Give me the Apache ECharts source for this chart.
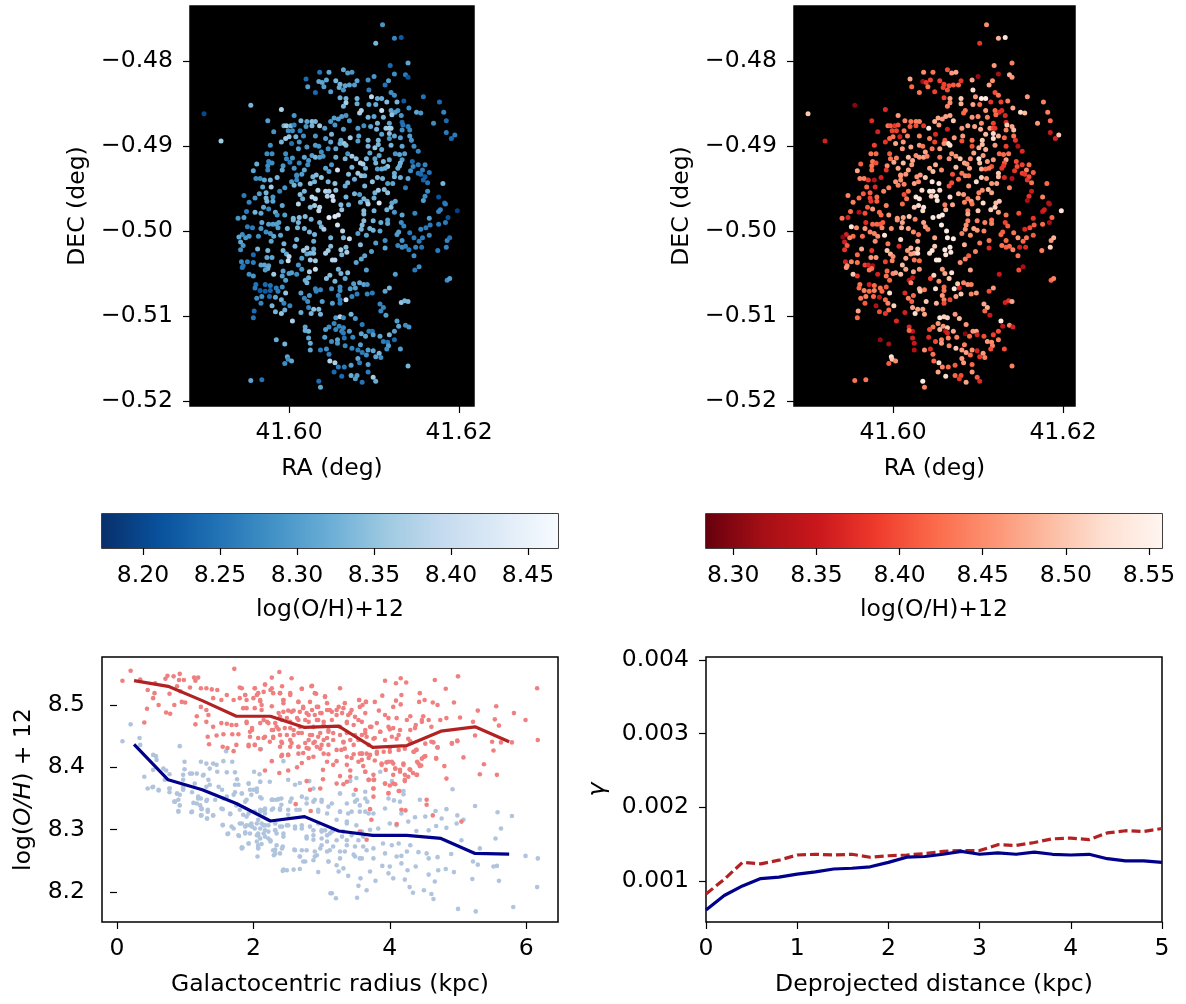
<!DOCTYPE html>
<html><head><meta charset="utf-8"><style>html,body{margin:0;padding:0;background:#fff}#c{width:1186px;height:1004px}</style>
<script src="https://cdn.jsdelivr.net/npm/echarts@6/dist/echarts.min.js"></script></head><body><div id="c"></div>
<script>
// Each row: RA (deg), DEC (deg), log(O/H)+12 in the blue map, log(O/H)+12 in the red map
const mapNorth=[
[41.6110,-0.4757,8.29,8.45],[41.6102,-0.4779,8.33,8.38],[41.6124,-0.4773,8.27,8.48],[41.6132,-0.4772,8.22,8.53],[41.6140,-0.4802,8.31,8.44],
[41.6119,-0.4805,8.24,8.46],[41.6137,-0.4816,8.26,8.48],[41.6140,-0.4819,8.21,8.46],[41.6124,-0.4815,8.28,8.32],[41.6036,-0.4813,8.25,8.45],
[41.6047,-0.4813,8.31,8.43],[41.6064,-0.4810,8.31,8.40],[41.6069,-0.4814,8.30,8.46],[41.6074,-0.4813,8.29,8.47],[41.6020,-0.4821,8.24,8.47],
[41.6035,-0.4824,8.31,8.32],[41.6039,-0.4825,8.31,8.38],[41.6044,-0.4822,8.31,8.39],[41.6041,-0.4830,8.30,8.43],[41.6055,-0.4823,8.33,8.39],
[41.6022,-0.4830,8.30,8.42],[41.6031,-0.4837,8.24,8.43],[41.6049,-0.4836,8.30,8.39],[41.6060,-0.4827,8.33,8.39],[41.6059,-0.4831,8.32,8.39],
[41.6066,-0.4829,8.31,8.40],[41.6071,-0.4828,8.31,8.41],[41.6077,-0.4828,8.30,8.42],[41.6080,-0.4823,8.31,8.38],[41.6064,-0.4834,8.29,8.40],
[41.6093,-0.4822,8.28,8.47],[41.6100,-0.4818,8.29,8.31],[41.6117,-0.4823,8.30,8.45],[41.6113,-0.4828,8.25,8.47],[41.6094,-0.4834,8.26,8.52],
[41.6120,-0.4837,8.28,8.40],[41.6124,-0.4840,8.28,8.43],[41.6158,-0.4842,8.25,8.46],[41.6135,-0.4847,8.22,8.44],[41.6177,-0.4848,8.24,8.44],
[41.6182,-0.4860,8.27,8.44],[41.6127,-0.4848,8.33,8.39],[41.6060,-0.4843,8.32,8.39],[41.6067,-0.4844,8.33,8.47],[41.6080,-0.4844,8.33,8.50],
[41.6097,-0.4842,8.39,8.46],[41.6104,-0.4844,8.32,8.54],[41.6109,-0.4844,8.32,8.54],[41.6115,-0.4848,8.34,8.38],[41.6067,-0.4849,8.37,8.45],
[41.6064,-0.4853,8.33,8.44],[41.6080,-0.4850,8.32,8.48],[41.6094,-0.4851,8.31,8.47],[41.6102,-0.4851,8.32,8.42],[41.6109,-0.4858,8.40,8.46],
[41.6120,-0.4858,8.31,8.42],[41.6128,-0.4858,8.29,8.37],[41.6125,-0.4860,8.30,8.37],[41.6141,-0.4855,8.28,8.47],[41.6150,-0.4860,8.31,8.52],
[41.6155,-0.4861,8.29,8.49],[41.6085,-0.4858,8.37,8.43],[41.6083,-0.4861,8.37,8.42],[41.5991,-0.4857,8.37,8.37],[41.5955,-0.4852,8.33,8.30],
[41.5900,-0.4862,8.20,8.50],[41.5920,-0.4894,8.36,8.36]
];
const mapUpper=[
[41.6006,-0.4864,8.29,8.46],[41.5975,-0.4870,8.30,8.37],[41.6014,-0.4870,8.33,8.44],[41.6027,-0.4871,8.34,8.44],[41.6031,-0.4871,8.33,8.44],
[41.6021,-0.4871,8.31,8.43],[41.6053,-0.4867,8.30,8.47],[41.6058,-0.4868,8.30,8.46],[41.6062,-0.4865,8.30,8.47],[41.6067,-0.4864,8.29,8.47],
[41.6071,-0.4870,8.29,8.50],[41.6049,-0.4871,8.29,8.48],[41.6054,-0.4875,8.29,8.46],[41.6093,-0.4866,8.33,8.46],[41.6100,-0.4865,8.31,8.45],
[41.6111,-0.4866,8.33,8.44],[41.6121,-0.4863,8.35,8.42],[41.6132,-0.4864,8.29,8.37],[41.6118,-0.4873,8.31,8.39],[41.6104,-0.4873,8.33,8.45],
[41.6133,-0.4872,8.24,8.37],[41.6134,-0.4875,8.25,8.50],[41.6140,-0.4877,8.26,8.47],[41.6142,-0.4881,8.27,8.49],[41.6170,-0.4873,8.28,8.46],
[41.6185,-0.4870,8.24,8.42],[41.5994,-0.4876,8.33,8.43],[41.5997,-0.4876,8.36,8.41],[41.6002,-0.4876,8.33,8.38],[41.6006,-0.4875,8.27,8.40],
[41.6020,-0.4877,8.29,8.41],[41.6027,-0.4876,8.33,8.40],[41.6036,-0.4876,8.36,8.38],[41.6042,-0.4879,8.30,8.54],[41.6064,-0.4880,8.30,8.36],
[41.6081,-0.4879,8.30,8.46],[41.6088,-0.4876,8.28,8.47],[41.6096,-0.4877,8.31,8.47],[41.6103,-0.4880,8.33,8.48],[41.6114,-0.4879,8.36,8.46],
[41.6118,-0.4879,8.37,8.40],[41.6120,-0.4879,8.36,8.38],[41.6133,-0.4881,8.28,8.44],[41.5982,-0.4883,8.29,8.36],[41.5999,-0.4882,8.28,8.39],
[41.6004,-0.4882,8.28,8.39],[41.6013,-0.4882,8.26,8.43],[41.6118,-0.4885,8.34,8.52],[41.6109,-0.4886,8.31,8.49],[41.6142,-0.4888,8.30,8.43],
[41.6185,-0.4884,8.26,8.35],[41.6195,-0.4887,8.26,8.50],[41.6191,-0.4891,8.24,8.36],[41.6000,-0.4889,8.35,8.43],[41.6008,-0.4889,8.33,8.36],
[41.6017,-0.4888,8.28,8.44],[41.6031,-0.4888,8.29,8.44],[41.5996,-0.4891,8.36,8.42],[41.6043,-0.4891,8.30,8.44],[41.6050,-0.4886,8.33,8.37],
[41.6072,-0.4890,8.36,8.46],[41.6082,-0.4888,8.31,8.46],[41.6093,-0.4893,8.33,8.43],[41.6105,-0.4893,8.33,8.50],[41.6118,-0.4891,8.29,8.52],
[41.6124,-0.4888,8.31,8.48],[41.6131,-0.4890,8.30,8.42],[41.6144,-0.4893,8.29,8.38],[41.5991,-0.4895,8.33,8.38],[41.5978,-0.4899,8.28,8.39],
[41.6003,-0.4897,8.25,8.47],[41.6012,-0.4895,8.29,8.46],[41.6031,-0.4899,8.30,8.46],[41.6035,-0.4900,8.29,8.43],[41.6049,-0.4895,8.31,8.39],
[41.6061,-0.4893,8.32,8.41],[41.6065,-0.4897,8.36,8.53],[41.6060,-0.4897,8.32,8.45],[41.6067,-0.4899,8.34,8.52],[41.6081,-0.4894,8.30,8.40],
[41.6093,-0.4900,8.33,8.40],[41.6101,-0.4902,8.35,8.48],[41.6105,-0.4898,8.33,8.49],[41.6109,-0.4904,8.31,8.48],[41.6120,-0.4899,8.33,8.46],
[41.6133,-0.4900,8.31,8.39],[41.6147,-0.4900,8.28,8.33],[41.6152,-0.4906,8.27,8.37]
];
const mapMiddleNorth=[
[41.5974,-0.4909,8.28,8.43],[41.5980,-0.4909,8.28,8.42],[41.5996,-0.4909,8.28,8.41],[41.6011,-0.4903,8.30,8.46],[41.6021,-0.4901,8.29,8.47],
[41.6038,-0.4907,8.28,8.47],[41.6046,-0.4903,8.28,8.43],[41.6055,-0.4903,8.31,8.47],[41.6069,-0.4909,8.29,8.45],[41.6095,-0.4908,8.31,8.47],
[41.6106,-0.4911,8.31,8.46],[41.6125,-0.4909,8.29,8.42],[41.6130,-0.4910,8.31,8.42],[41.6136,-0.4909,8.30,8.43],[41.6027,-0.4911,8.30,8.45],
[41.6031,-0.4913,8.33,8.46],[41.6036,-0.4913,8.30,8.47],[41.6040,-0.4912,8.29,8.44],[41.5997,-0.4915,8.27,8.43],[41.6004,-0.4914,8.29,8.44],
[41.6018,-0.4913,8.31,8.49],[41.6012,-0.4920,8.27,8.49],[41.6001,-0.4919,8.26,8.47],[41.5976,-0.4918,8.27,8.43],[41.5962,-0.4921,8.32,8.41],
[41.5980,-0.4920,8.28,8.40],[41.5975,-0.4923,8.28,8.43],[41.5975,-0.4928,8.27,8.42],[41.5958,-0.4929,8.31,8.47],[41.5993,-0.4923,8.29,8.45],
[41.5992,-0.4928,8.31,8.38],[41.6006,-0.4926,8.29,8.47],[41.6023,-0.4917,8.29,8.47],[41.6022,-0.4922,8.28,8.46],[41.6018,-0.4928,8.31,8.47],
[41.6055,-0.4913,8.32,8.43],[41.6066,-0.4915,8.33,8.46],[41.6074,-0.4912,8.36,8.46],[41.6079,-0.4915,8.35,8.50],[41.6091,-0.4915,8.33,8.45],
[41.6101,-0.4915,8.31,8.53],[41.6111,-0.4918,8.33,8.46],[41.6118,-0.4916,8.31,8.46],[41.6102,-0.4920,8.33,8.49],[41.6133,-0.4916,8.30,8.47],
[41.6131,-0.4920,8.33,8.41],[41.6145,-0.4918,8.24,8.40],[41.6152,-0.4922,8.26,8.39],[41.6160,-0.4922,8.27,8.42],[41.6146,-0.4924,8.27,8.40],
[41.6050,-0.4922,8.29,8.48],[41.6043,-0.4926,8.31,8.47],[41.6057,-0.4928,8.41,8.45],[41.6047,-0.4930,8.30,8.49],[41.6074,-0.4925,8.33,8.49],
[41.6084,-0.4920,8.38,8.47],[41.6087,-0.4921,8.37,8.46],[41.6090,-0.4926,8.33,8.47],[41.6116,-0.4924,8.35,8.40],[41.6109,-0.4927,8.32,8.42],
[41.6113,-0.4926,8.32,8.43],[41.6104,-0.4927,8.30,8.47],[41.6130,-0.4923,8.32,8.38],[41.6128,-0.4926,8.32,8.38],[41.6143,-0.4929,8.28,8.38],
[41.6157,-0.4928,8.26,8.44],[41.6165,-0.4931,8.25,8.41],[41.6152,-0.4932,8.25,8.39],[41.6155,-0.4933,8.24,8.38],[41.6160,-0.4936,8.22,8.40],
[41.6158,-0.4940,8.23,8.38],[41.6163,-0.4943,8.25,8.43],[41.6009,-0.4934,8.27,8.46],[41.6015,-0.4933,8.30,8.46],[41.5961,-0.4938,8.28,8.44],
[41.5966,-0.4938,8.28,8.44],[41.5971,-0.4940,8.31,8.38],[41.5978,-0.4940,8.33,8.33],[41.5986,-0.4937,8.33,8.36],[41.5969,-0.4948,8.31,8.42],
[41.5979,-0.4948,8.36,8.37],[41.6003,-0.4942,8.29,8.46],[41.6009,-0.4935,8.28,8.46],[41.6009,-0.4940,8.27,8.45],[41.6006,-0.4946,8.33,8.44],
[41.6013,-0.4945,8.33,8.44],[41.6028,-0.4936,8.33,8.46],[41.6032,-0.4934,8.34,8.46],[41.6038,-0.4937,8.35,8.50],[41.6030,-0.4942,8.33,8.45],
[41.6025,-0.4944,8.35,8.47],[41.6046,-0.4942,8.33,8.53],[41.6054,-0.4944,8.35,8.53],[41.6070,-0.4933,8.34,8.40],[41.6081,-0.4932,8.36,8.43],
[41.6085,-0.4935,8.35,8.44],[41.6089,-0.4935,8.33,8.43],[41.6077,-0.4939,8.32,8.42],[41.6069,-0.4943,8.33,8.40],[41.6066,-0.4947,8.32,8.40],
[41.6089,-0.4947,8.33,8.46],[41.6098,-0.4942,8.35,8.52],[41.6104,-0.4937,8.33,8.50],[41.6110,-0.4938,8.33,8.46],[41.6116,-0.4944,8.30,8.46],
[41.6122,-0.4944,8.31,8.47],[41.6124,-0.4932,8.32,8.50],[41.6124,-0.4936,8.33,8.49],[41.6131,-0.4937,8.32,8.37],[41.6140,-0.4938,8.31,8.33],
[41.6137,-0.4949,8.26,8.44],[41.6181,-0.4944,8.33,8.42],[41.6163,-0.4953,8.28,8.35],[41.6160,-0.4959,8.28,8.38],[41.6176,-0.4960,8.21,8.44],
[41.6158,-0.4964,8.30,8.32],[41.6183,-0.4967,8.24,8.33],[41.5947,-0.4958,8.26,8.44],[41.5965,-0.4956,8.30,8.41],[41.5960,-0.4961,8.29,8.42],
[41.5953,-0.4966,8.27,8.44],[41.5973,-0.4955,8.33,8.41],[41.5973,-0.4961,8.33,8.39],[41.5974,-0.4965,8.33,8.38],[41.5981,-0.4960,8.29,8.42],
[41.5981,-0.4965,8.31,8.41],[41.5989,-0.4953,8.27,8.44],[41.5995,-0.4949,8.29,8.44],[41.6018,-0.4953,8.33,8.43],[41.6013,-0.4957,8.34,8.40],
[41.6016,-0.4962,8.32,8.43],[41.6034,-0.4952,8.38,8.52],[41.6043,-0.4953,8.38,8.54],[41.6047,-0.4953,8.37,8.53],[41.6055,-0.4952,8.35,8.52],
[41.6027,-0.4960,8.39,8.53],[41.6031,-0.4962,8.38,8.53],[41.6045,-0.4959,8.38,8.50],[41.6051,-0.4959,8.40,8.53],[41.6052,-0.4964,8.40,8.53],
[41.6067,-0.4960,8.33,8.52],[41.6077,-0.4956,8.33,8.48],[41.6083,-0.4957,8.30,8.46],[41.6101,-0.4955,8.33,8.44],[41.6105,-0.4952,8.36,8.45],
[41.6112,-0.4951,8.34,8.49],[41.6116,-0.4955,8.35,8.47],[41.6100,-0.4961,8.32,8.46],[41.6088,-0.4962,8.33,8.43],[41.6084,-0.4966,8.32,8.44],
[41.6092,-0.4965,8.33,8.46],[41.6106,-0.4967,8.42,8.52],[41.6125,-0.4965,8.31,8.50],[41.6121,-0.4967,8.31,8.49],[41.6011,-0.4968,8.38,8.42]
];
const mapSouth=[
[41.5992,-0.4970,8.31,8.44],[41.6025,-0.4972,8.34,8.50],[41.6030,-0.4970,8.36,8.52],[41.6036,-0.4972,8.38,8.53],[41.6035,-0.4976,8.39,8.52],
[41.6061,-0.4969,8.34,8.44],[41.6070,-0.4969,8.32,8.47],[41.6062,-0.4975,8.35,8.48],[41.6093,-0.4968,8.37,8.43],[41.6088,-0.4976,8.34,8.44],
[41.6088,-0.4980,8.34,8.47],[41.6100,-0.4976,8.33,8.50],[41.6115,-0.4975,8.33,8.51],[41.6120,-0.4972,8.34,8.51],[41.6124,-0.4978,8.29,8.47],
[41.6133,-0.4981,8.31,8.43],[41.6148,-0.4979,8.27,8.40],[41.6176,-0.4977,8.27,8.35],[41.6178,-0.4975,8.27,8.36],[41.6184,-0.4968,8.26,8.33],
[41.6198,-0.4976,8.19,8.53],[41.6187,-0.4984,8.21,8.42],[41.5940,-0.4985,8.29,8.43],[41.5947,-0.4984,8.30,8.36],[41.5950,-0.4977,8.26,8.42],
[41.5960,-0.4978,8.33,8.33],[41.5967,-0.4979,8.31,8.40],[41.5970,-0.4972,8.31,8.41],[41.5976,-0.4974,8.27,8.46],[41.5984,-0.4978,8.32,8.42],
[41.5986,-0.4981,8.28,8.42],[41.5995,-0.4981,8.30,8.46],[41.6005,-0.4987,8.32,8.45],[41.6005,-0.4985,8.33,8.46],[41.6012,-0.4984,8.34,8.47],
[41.6019,-0.4983,8.34,8.50],[41.6026,-0.4986,8.33,8.44],[41.6047,-0.4984,8.44,8.53],[41.6054,-0.4983,8.43,8.54],[41.6058,-0.4981,8.42,8.54],
[41.6036,-0.4990,8.33,8.47],[41.6038,-0.4995,8.33,8.46],[41.6041,-0.4998,8.37,8.44],[41.6057,-0.4993,8.41,8.54],[41.6063,-0.5000,8.38,8.54],
[41.6099,-0.4988,8.33,8.44],[41.6108,-0.4990,8.32,8.44],[41.6116,-0.4987,8.30,8.43],[41.6116,-0.4991,8.31,8.44],[41.6132,-0.4990,8.28,8.39],
[41.6135,-0.4994,8.27,8.41],[41.6165,-0.4985,8.30,8.38],[41.6176,-0.4992,8.26,8.42],[41.6184,-0.4990,8.26,8.32],[41.6166,-0.4993,8.26,8.41],
[41.6161,-0.4996,8.26,8.40],[41.6155,-0.4998,8.27,8.37],[41.5951,-0.4995,8.26,8.53],[41.5957,-0.4996,8.26,8.45],[41.5968,-0.4990,8.31,8.37],
[41.5976,-0.4992,8.30,8.42],[41.5981,-0.4992,8.30,8.42],[41.5985,-0.4992,8.30,8.41],[41.5988,-0.4990,8.30,8.41],[41.5987,-0.4996,8.30,8.44],
[41.5998,-0.4997,8.33,8.45],[41.6011,-0.4990,8.33,8.47],[41.6010,-0.4996,8.33,8.48],[41.6018,-0.4997,8.33,8.47],[41.6024,-0.5001,8.33,8.45],
[41.6030,-0.5004,8.33,8.43],[41.5967,-0.4997,8.29,8.46],[41.5973,-0.5001,8.28,8.44],[41.5978,-0.5003,8.29,8.44],[41.5990,-0.5005,8.31,8.53],
[41.5982,-0.5006,8.31,8.45],[41.5964,-0.5006,8.28,8.42],[41.5953,-0.5006,8.29,8.42],[41.5949,-0.5008,8.29,8.44],[41.5945,-0.5004,8.28,8.36],
[41.5941,-0.5007,8.31,8.30],[41.5943,-0.5013,8.31,8.36],[41.5946,-0.5017,8.29,8.41],[41.5943,-0.5022,8.28,8.38],[41.5979,-0.5012,8.31,8.45],
[41.5994,-0.5015,8.33,8.43],[41.6009,-0.5010,8.33,8.52],[41.6029,-0.5012,8.32,8.47],[41.6007,-0.5018,8.33,8.37],[41.5963,-0.5021,8.33,8.47],
[41.5975,-0.5023,8.33,8.38],[41.5993,-0.5023,8.33,8.50],[41.6017,-0.5023,8.36,8.46],[41.6021,-0.5020,8.36,8.48],[41.6029,-0.5021,8.32,8.50],
[41.5997,-0.5027,8.32,8.48],[41.6000,-0.5030,8.38,8.45],[41.5999,-0.5035,8.41,8.44],[41.6021,-0.5027,8.31,8.46],[41.6025,-0.5026,8.33,8.47],
[41.6029,-0.5026,8.34,8.52],[41.6015,-0.5032,8.30,8.47],[41.6025,-0.5034,8.36,8.43],[41.6031,-0.5035,8.36,8.42],[41.5974,-0.5031,8.31,8.46],
[41.5980,-0.5031,8.31,8.46],[41.5991,-0.5036,8.29,8.39],[41.5958,-0.5028,8.24,8.42],[41.5944,-0.5036,8.27,8.36],[41.5951,-0.5036,8.26,8.44],
[41.5958,-0.5037,8.26,8.43],[41.5946,-0.5041,8.25,8.45],[41.5945,-0.5043,8.25,8.46],[41.5967,-0.5040,8.31,8.39],[41.5971,-0.5040,8.31,8.36],
[41.5976,-0.5041,8.31,8.32],[41.5975,-0.5044,8.32,8.42],[41.5972,-0.5046,8.30,8.43],[41.5993,-0.5047,8.30,8.42],[41.5992,-0.5053,8.30,8.43],
[41.6000,-0.5050,8.30,8.45],[41.6003,-0.5049,8.30,8.46],[41.6009,-0.5051,8.28,8.49],[41.5953,-0.5051,8.28,8.50],[41.5958,-0.5053,8.29,8.38],
[41.5982,-0.5051,8.36,8.36],[41.5996,-0.5058,8.30,8.42],[41.6011,-0.5040,8.29,8.49],[41.6015,-0.5045,8.29,8.47],[41.6024,-0.5048,8.37,8.47],
[41.6031,-0.5045,8.40,8.46],[41.6044,-0.5056,8.34,8.39],[41.6048,-0.5052,8.34,8.51],[41.6058,-0.5045,8.33,8.46],[41.6061,-0.5050,8.33,8.47],
[41.6066,-0.5056,8.31,8.50],[41.6069,-0.5049,8.34,8.53],[41.6054,-0.5059,8.33,8.45],[41.6051,-0.5034,8.38,8.53],[41.6054,-0.5034,8.38,8.54],
[41.6043,-0.5026,8.37,8.52],[41.6046,-0.5023,8.36,8.53],[41.6049,-0.5008,8.33,8.47],[41.6064,-0.5008,8.33,8.54],[41.6071,-0.5009,8.40,8.54],
[41.6049,-0.5018,8.34,8.50],[41.6061,-0.5022,8.36,8.54],[41.6067,-0.5019,8.34,8.54],[41.6068,-0.5025,8.37,8.53],[41.6062,-0.5028,8.33,8.53],
[41.6081,-0.5003,8.30,8.44],[41.6085,-0.4998,8.33,8.46],[41.6086,-0.4993,8.34,8.45],[41.6088,-0.4988,8.34,8.44],[41.6095,-0.4997,8.33,8.47],
[41.6099,-0.4999,8.33,8.46],[41.6107,-0.5000,8.31,8.44],[41.6091,-0.5005,8.31,8.45],[41.6084,-0.5016,8.34,8.48],[41.6113,-0.5011,8.28,8.43],
[41.6102,-0.5014,8.30,8.43],[41.6097,-0.5024,8.30,8.44],[41.6113,-0.5020,8.31,8.37],[41.6128,-0.5017,8.27,8.43],[41.6133,-0.5011,8.29,8.42],
[41.6133,-0.5019,8.28,8.41],[41.6137,-0.5018,8.27,8.42],[41.6141,-0.5022,8.26,8.44],[41.6149,-0.5019,8.27,8.36],[41.6156,-0.5019,8.25,8.37],
[41.6147,-0.5008,8.26,8.46],[41.6153,-0.5012,8.26,8.42],[41.6157,-0.5008,8.26,8.43],[41.6165,-0.5005,8.27,8.41],[41.6142,-0.5002,8.26,8.43],
[41.6127,-0.5004,8.30,8.42],[41.6129,-0.5001,8.30,8.41],[41.6186,-0.5011,8.27,8.46],[41.6189,-0.5008,8.25,8.48],[41.6175,-0.5023,8.26,8.44],
[41.6185,-0.5019,8.27,8.51],[41.6147,-0.5029,8.28,8.43],[41.6153,-0.5042,8.28,8.32],[41.6148,-0.5046,8.26,8.40],[41.6125,-0.5051,8.30,8.35],
[41.6091,-0.5046,8.30,8.47],[41.6089,-0.5029,8.31,8.41],[41.6085,-0.5033,8.31,8.44],[41.6079,-0.5037,8.31,8.45],[41.6186,-0.5058,8.28,8.42],
[41.6189,-0.5056,8.30,8.44]
];
const mapSouthEnd=[
[41.5961,-0.5063,8.25,8.43],[41.5960,-0.5067,8.26,8.42],[41.5972,-0.5063,8.24,8.36],[41.5978,-0.5064,8.25,8.42],[41.5966,-0.5070,8.22,8.44],
[41.5972,-0.5071,8.22,8.42],[41.5978,-0.5070,8.23,8.44],[41.5985,-0.5067,8.26,8.43],[41.5987,-0.5071,8.26,8.42],[41.5992,-0.5066,8.28,8.41],
[41.5996,-0.5073,8.35,8.52],[41.5968,-0.5077,8.28,8.44],[41.5962,-0.5079,8.28,8.43],[41.5977,-0.5077,8.24,8.42],[41.5984,-0.5078,8.31,8.34],
[41.5991,-0.5081,8.32,8.42],[41.5967,-0.5085,8.27,8.41],[41.5994,-0.5085,8.27,8.44],[41.5980,-0.5088,8.33,8.33],[41.6001,-0.5088,8.27,8.51],
[41.5959,-0.5094,8.24,8.47],[41.5958,-0.5102,8.25,8.42],[41.5984,-0.5095,8.33,8.40],[41.5991,-0.5097,8.35,8.38],[41.5995,-0.5093,8.32,8.42],
[41.6004,-0.5106,8.37,8.37],[41.6014,-0.5073,8.30,8.37],[41.6023,-0.5055,8.32,8.34],[41.6019,-0.5058,8.32,8.34],[41.6021,-0.5061,8.33,8.44],
[41.6031,-0.5068,8.27,8.48],[41.6032,-0.5071,8.27,8.50],[41.6037,-0.5069,8.27,8.44],[41.6024,-0.5076,8.29,8.42],[41.6018,-0.5079,8.27,8.44],
[41.6022,-0.5083,8.28,8.41],[41.6023,-0.5090,8.27,8.47],[41.6029,-0.5092,8.35,8.47],[41.6035,-0.5092,8.34,8.47],[41.6026,-0.5097,8.33,8.52],
[41.6037,-0.5098,8.33,8.47],[41.6014,-0.5096,8.32,8.36],[41.6039,-0.5083,8.30,8.50],[41.6051,-0.5085,8.30,8.48],[41.6050,-0.5068,8.28,8.52],
[41.6060,-0.5066,8.28,8.42],[41.6060,-0.5070,8.28,8.43],[41.6058,-0.5076,8.27,8.46],[41.6060,-0.5081,8.26,8.44],[41.6060,-0.5085,8.26,8.40],
[41.6067,-0.5081,8.41,8.39],[41.6074,-0.5077,8.27,8.47],[41.6080,-0.5074,8.26,8.50],[41.6072,-0.5068,8.30,8.54],[41.6078,-0.5067,8.30,8.36],
[41.6076,-0.5062,8.30,8.50],[41.6083,-0.5061,8.31,8.44],[41.6088,-0.5063,8.31,8.45],[41.6092,-0.5063,8.29,8.44],[41.6098,-0.5073,8.26,8.46],
[41.6092,-0.5074,8.27,8.44],[41.6113,-0.5071,8.31,8.40],[41.6118,-0.5067,8.33,8.46],[41.6107,-0.5086,8.27,8.47],[41.6111,-0.5090,8.27,8.48],
[41.6108,-0.5094,8.27,8.42],[41.6114,-0.5099,8.30,8.35],[41.6132,-0.5084,8.35,8.36],[41.6136,-0.5082,8.33,8.38],[41.6140,-0.5083,8.33,8.47],
[41.6127,-0.5106,8.30,8.54],[41.6129,-0.5112,8.31,8.34],[41.6137,-0.5111,8.28,8.44],[41.6141,-0.5113,8.29,8.36],[41.6140,-0.5159,8.33,8.44]
];
const mapLowerLoop=[
[41.6055,-0.5102,8.30,8.53],[41.6060,-0.5101,8.38,8.51],[41.6064,-0.5102,8.28,8.51],[41.6073,-0.5098,8.33,8.46],[41.6078,-0.5103,8.29,8.49],
[41.6086,-0.5110,8.26,8.46],[41.6053,-0.5109,8.27,8.46],[41.6059,-0.5112,8.27,8.46],[41.6047,-0.5113,8.28,8.43],[41.6043,-0.5116,8.30,8.40],
[41.6055,-0.5116,8.27,8.48],[41.6064,-0.5114,8.27,8.50],[41.6062,-0.5118,8.27,8.34],[41.6064,-0.5120,8.26,8.36],[41.6071,-0.5118,8.30,8.47],
[41.6042,-0.5125,8.30,8.37],[41.6065,-0.5126,8.25,8.44],[41.6075,-0.5125,8.27,8.44],[41.6050,-0.5130,8.28,8.40],[41.6057,-0.5128,8.31,8.44],
[41.6057,-0.5132,8.29,8.46],[41.6066,-0.5135,8.27,8.44],[41.6085,-0.5121,8.31,8.30],[41.6090,-0.5124,8.31,8.42],[41.6094,-0.5118,8.26,8.46],
[41.6098,-0.5118,8.25,8.47],[41.6099,-0.5122,8.30,8.36],[41.6107,-0.5124,8.31,8.40],[41.6118,-0.5122,8.33,8.39],[41.6124,-0.5118,8.30,8.40],
[41.6124,-0.5128,8.24,8.44],[41.6111,-0.5130,8.26,8.46],[41.6116,-0.5131,8.25,8.45],[41.6117,-0.5135,8.30,8.44],[41.6115,-0.5139,8.28,8.40],
[41.6131,-0.5139,8.30,8.40],[41.6084,-0.5134,8.30,8.44],[41.6074,-0.5138,8.27,8.50],[41.6081,-0.5140,8.26,8.46],[41.6086,-0.5143,8.26,8.47],
[41.6093,-0.5140,8.30,8.45],[41.6099,-0.5141,8.31,8.36],[41.6091,-0.5146,8.28,8.42],[41.6102,-0.5148,8.31,8.38],[41.6106,-0.5144,8.33,8.46],
[41.6108,-0.5149,8.28,8.44],[41.6037,-0.5140,8.26,8.45],[41.6044,-0.5139,8.28,8.37],[41.6025,-0.5140,8.31,8.33],[41.6025,-0.5132,8.32,8.35],
[41.6023,-0.5126,8.31,8.36],[41.6023,-0.5118,8.33,8.34],[41.6019,-0.5113,8.31,8.37],[41.6019,-0.5117,8.32,8.42],[41.6047,-0.5145,8.26,8.43],
[41.6048,-0.5153,8.38,8.42],[41.6054,-0.5155,8.37,8.52],[41.6058,-0.5160,8.26,8.44],[41.6065,-0.5160,8.26,8.42],[41.6073,-0.5158,8.30,8.41],
[41.6081,-0.5150,8.31,8.46],[41.6083,-0.5155,8.26,8.46],[41.6093,-0.5157,8.30,8.42],[41.6053,-0.5166,8.24,8.47],[41.6062,-0.5171,8.24,8.52],
[41.6073,-0.5170,8.32,8.42],[41.6080,-0.5170,8.30,8.40],[41.6078,-0.5174,8.30,8.38],[41.6093,-0.5166,8.26,8.46],[41.6099,-0.5172,8.36,8.41],
[41.6102,-0.5177,8.32,8.37],[41.6086,-0.5178,8.25,8.47],[41.6035,-0.5177,8.24,8.54],[41.6037,-0.5184,8.31,8.44],[41.5955,-0.5176,8.31,8.43],
[41.5968,-0.5175,8.25,8.43],[41.5985,-0.5128,8.32,8.31],[41.5995,-0.5133,8.33,8.32],[41.5998,-0.5148,8.31,8.53],[41.5999,-0.5151,8.28,8.50],
[41.6003,-0.5153,8.31,8.45],[41.5995,-0.5156,8.28,8.41]
];
// Each row: galactocentric radius (kpc), log(O/H)+12
const redInnerDisc=[
[0.08,8.539],[0.20,8.555],[0.34,8.541],[0.40,8.472],[0.44,8.494],[0.45,8.524],[0.53,8.511],[0.55,8.519],[0.61,8.500],[0.56,8.535],[0.71,8.542],[0.74,8.547],[0.83,8.546],[0.92,8.550],[0.91,8.540],[0.98,8.540],[0.77,8.518],[0.72,8.488],[0.78,8.486],[0.84,8.500],[0.88,8.530],[0.93,8.522],[0.95,8.505],[1.00,8.504],[1.07,8.528],[1.13,8.544],[1.19,8.544],[1.15,8.539],[1.23,8.527],[1.31,8.527],[1.39,8.525],[1.47,8.524],[1.72,8.558],[1.80,8.528],[1.17,8.482],[1.15,8.469],[1.23,8.497],[1.31,8.492],[1.34,8.484],[1.31,8.473],[1.41,8.465],[1.46,8.451],[1.33,8.449],[1.35,8.437],[1.55,8.433],[1.62,8.431],[1.71,8.426],[1.75,8.436],[1.56,8.453],[1.69,8.453],[1.78,8.453],[1.53,8.471],[1.61,8.470],[1.68,8.468],[1.75,8.468],[1.90,8.471],[1.93,8.436],[2.02,8.436],[1.98,8.460],[1.95,8.449],[2.10,8.429],[2.15,8.447],[2.24,8.441],[1.41,8.511],[1.53,8.508],[1.61,8.516],[1.71,8.508],[1.80,8.511],[1.88,8.516],[1.90,8.495],[2.02,8.527],[2.05,8.516],[2.10,8.506],[2.12,8.492],[2.17,8.533],[2.25,8.524],[2.27,8.544],[2.38,8.553],[2.56,8.543],[2.39,8.519],[2.44,8.508],[2.54,8.519],[2.66,8.505],[2.71,8.526],[2.85,8.530],[2.90,8.519],[3.05,8.514],[2.73,8.495],[2.81,8.484],[2.93,8.497],[2.98,8.487],[3.08,8.492],[2.56,8.489],[2.39,8.481],[2.49,8.479],[2.64,8.479],[2.29,8.460],[2.39,8.452],[2.49,8.452],[2.59,8.452],[2.71,8.455],[2.83,8.452],[2.95,8.449],[3.08,8.447],[2.29,8.449],[2.42,8.439],[2.51,8.420],[2.66,8.433],[2.78,8.431],[2.93,8.433],[3.03,8.422],[2.42,8.420],[2.27,8.410],[2.71,8.407],[2.81,8.415],[3.08,8.409],[2.17,8.395],[2.38,8.391],[2.51,8.395],[2.64,8.400],[2.78,8.378],[2.83,8.364],[2.98,8.366],[3.02,8.381],[3.02,8.396],[2.62,8.341],[2.84,8.330],[2.68,8.465],[2.88,8.465],[3.03,8.468],[2.20,8.473],[2.34,8.465],[2.54,8.463],[2.76,8.439],[2.88,8.439],[3.00,8.436],[3.10,8.436],[2.56,8.439],[3.10,8.460],[2.93,8.476],[2.76,8.476]
];
const redOuterDisc=[
[3.27,8.527],[3.93,8.539],[4.09,8.535],[4.16,8.543],[4.24,8.536],[3.89,8.515],[4.17,8.516],[4.09,8.507],[4.16,8.501],[4.05,8.497],[3.55,8.508],[3.65,8.505],[3.60,8.500],[3.78,8.505],[3.84,8.491],[3.93,8.484],[3.98,8.479],[4.10,8.479],[4.25,8.476],[4.30,8.482],[4.38,8.468],[4.47,8.476],[4.57,8.476],[4.49,8.482],[4.44,8.519],[4.43,8.505],[4.51,8.508],[4.63,8.504],[4.70,8.500],[4.82,8.526],[4.66,8.540],[5.00,8.546],[4.94,8.504],[4.83,8.479],[4.74,8.476],[5.03,8.480],[5.29,8.491],[5.22,8.473],[5.56,8.498],[5.54,8.477],[5.60,8.467],[5.82,8.487],[5.99,8.476],[6.16,8.527],[6.17,8.444],[5.79,8.440],[5.63,8.440],[5.50,8.441],[5.25,8.451],[4.99,8.442],[4.91,8.439],[4.64,8.440],[4.70,8.432],[5.52,8.427],[5.08,8.416],[4.68,8.415],[5.38,8.405],[4.80,8.402],[5.32,8.389],[5.57,8.388],[4.83,8.382],[4.50,8.417],[4.40,8.409],[4.44,8.402],[4.35,8.425],[4.39,8.428],[4.30,8.442],[4.13,8.452],[4.00,8.461],[3.86,8.457],[3.73,8.465],[3.64,8.460],[3.78,8.447],[3.54,8.476],[3.42,8.487],[3.32,8.495],[3.22,8.492],[3.15,8.489],[3.37,8.471],[3.27,8.465],[3.17,8.455],[3.32,8.440],[3.47,8.436],[3.29,8.428],[3.56,8.422],[3.44,8.415],[3.69,8.415],[3.81,8.422],[4.00,8.431],[3.88,8.404],[3.98,8.409],[4.08,8.398],[4.20,8.404],[4.15,8.396],[4.30,8.396],[4.40,8.388],[4.27,8.385],[4.22,8.378],[3.64,8.393],[3.42,8.395],[3.27,8.386],[3.42,8.385],[3.69,8.380],[3.76,8.380],[3.93,8.374],[4.05,8.374],[3.22,8.374],[3.32,8.373],[3.37,8.377],[3.76,8.366],[3.50,8.364],[3.98,8.359],[4.14,8.362],[3.76,8.353],[4.54,8.348],[4.54,8.340],[3.71,8.333],[4.17,8.332],[4.23,8.331],[3.73,8.316],[4.63,8.323],[5.05,8.313],[4.10,8.309],[3.56,8.297],[3.66,8.284],[3.17,8.404],[3.22,8.410],[3.37,8.404],[3.54,8.409]
];
const redRidge=[
[2.02,8.527],[2.07,8.519],[2.00,8.511],[2.15,8.521],[2.10,8.508],[2.12,8.500],[2.02,8.495],[1.90,8.508],[1.85,8.495],[2.27,8.527],[2.29,8.519],[2.39,8.519],[2.44,8.508],[2.54,8.516],[2.44,8.503],[2.27,8.498],[2.66,8.505],[2.73,8.497],[2.83,8.505],[2.92,8.518],[3.05,8.513],[3.08,8.503],[2.95,8.497],[2.86,8.492],[2.59,8.491],[2.68,8.489],[2.44,8.489],[2.51,8.491],[2.37,8.487],[2.78,8.487],[2.90,8.484],[3.00,8.487],[3.12,8.492],[3.25,8.497],[3.34,8.503],[3.55,8.508],[3.65,8.505],[3.56,8.497],[3.44,8.492],[3.39,8.484],[3.30,8.487],[3.22,8.484],[3.49,8.481],[3.64,8.487],[3.59,8.473],[3.47,8.468],[3.37,8.473],[3.15,8.476],[3.03,8.473],[2.95,8.476],[2.81,8.473],[2.66,8.476],[2.54,8.473],[2.42,8.476],[2.32,8.471],[2.22,8.471],[2.15,8.476],[2.10,8.471],[1.98,8.463],[1.90,8.473],[2.27,8.460],[2.37,8.461],[2.46,8.463],[2.59,8.460],[2.66,8.455],[2.86,8.452],[2.98,8.455],[3.10,8.457],[3.27,8.452],[3.37,8.455],[3.49,8.452],[3.64,8.455],[3.42,8.444],[3.54,8.444],[3.32,8.441],[3.17,8.444],[3.03,8.444],[2.90,8.441],[2.81,8.444],[2.54,8.444],[2.41,8.441],[2.29,8.447],[2.17,8.449],[2.07,8.447],[1.95,8.457],[1.93,8.434],[2.02,8.436],[2.39,8.433],[2.54,8.433],[2.66,8.433],[2.81,8.430],[2.98,8.430],[3.22,8.428],[3.34,8.430],[3.47,8.421],[3.59,8.422],[3.69,8.436],[2.41,8.418],[2.51,8.420],[2.66,8.422],[2.73,8.423],[3.10,8.421],[3.37,8.417],[2.88,8.417],[1.88,8.516],[1.83,8.527],[2.42,8.530],[2.17,8.533],[2.71,8.526],[2.86,8.531]
];
const redFalloff=[
[3.59,8.452],[3.71,8.465],[3.81,8.471],[3.86,8.457],[3.76,8.446],[3.98,8.465],[4.05,8.463],[4.03,8.449],[4.15,8.460],[4.30,8.460],[4.37,8.463],[4.47,8.473],[4.61,8.465],[4.27,8.446],[4.10,8.446],[3.93,8.444],[3.66,8.449],[3.66,8.422],[3.59,8.422],[3.71,8.420],[3.81,8.425],[3.91,8.425],[4.00,8.425],[4.13,8.428],[4.22,8.430],[4.35,8.425],[4.39,8.428],[4.52,8.438],[4.61,8.441],[4.70,8.432],[4.91,8.438],[4.99,8.443],[4.52,8.418],[4.47,8.414],[4.68,8.414],[3.59,8.412],[3.78,8.411],[3.88,8.406],[4.03,8.409],[4.05,8.406],[4.20,8.406],[4.42,8.406],[4.46,8.403],[3.61,8.402],[3.95,8.408],[4.08,8.398],[4.15,8.393],[4.29,8.397],[4.34,8.391],[4.39,8.388],[3.64,8.393],[3.76,8.388],[3.94,8.396],[4.05,8.388],[4.22,8.388],[3.69,8.380],[3.77,8.380],[4.22,8.380],[3.93,8.374],[4.08,8.373],[4.00,8.371],[3.76,8.366],[4.13,8.362],[3.98,8.358]
];
const blueInnerDisc=[
[0.20,8.469],[0.08,8.442],[0.33,8.447],[0.34,8.436],[0.92,8.434],[1.60,8.426],[2.11,8.429],[0.53,8.420],[0.57,8.418],[0.58,8.412],[0.53,8.396],[0.40,8.385],[0.45,8.366],[0.52,8.368],[0.61,8.363],[0.68,8.398],[0.72,8.395],[0.77,8.389],[0.70,8.380],[0.77,8.366],[0.77,8.360],[0.88,8.358],[0.92,8.356],[0.90,8.348],[0.85,8.345],[0.90,8.330],[0.99,8.409],[0.99,8.397],[0.97,8.388],[0.97,8.369],[0.97,8.364],[1.10,8.390],[1.17,8.390],[1.14,8.374],[1.10,8.360],[1.19,8.353],[1.17,8.342],[1.09,8.328],[1.23,8.409],[1.31,8.406],[1.36,8.398],[1.41,8.406],[1.46,8.404],[1.26,8.387],[1.34,8.380],[1.31,8.369],[1.23,8.350],[1.31,8.346],[1.24,8.334],[1.33,8.332],[1.23,8.323],[1.32,8.318],[1.41,8.323],[1.56,8.410],[1.69,8.409],[1.47,8.393],[1.61,8.392],[1.73,8.392],[1.76,8.381],[1.54,8.364],[1.61,8.353],[1.55,8.333],[1.66,8.325],[1.55,8.308],[1.62,8.293],[1.71,8.302],[1.79,8.290],[1.88,8.294],[1.84,8.271],[1.93,8.278],[2.06,8.257],[1.78,8.372],[1.73,8.360],[1.83,8.358],[1.93,8.374],[2.01,8.393],[2.09,8.389],[2.10,8.377],[2.00,8.364],[2.05,8.361],[2.12,8.350],[1.88,8.345],[1.80,8.332],[1.93,8.326],[1.83,8.310],[1.95,8.307],[2.02,8.302],[2.10,8.329],[2.17,8.332],[2.07,8.316],[2.15,8.307],[2.05,8.291],[2.10,8.286],[2.17,8.299],[2.25,8.283],[2.07,8.271],[2.24,8.377],[2.27,8.348],[2.37,8.349],[2.29,8.334],[2.39,8.332],[2.44,8.410],[2.51,8.380],[2.61,8.372],[2.68,8.375],[2.82,8.378],[2.54,8.345],[2.41,8.340],[2.51,8.324],[2.39,8.305],[2.49,8.307],[2.61,8.302],[2.71,8.302],[2.32,8.299],[2.44,8.294],[2.29,8.267],[2.39,8.262],[2.30,8.259],[2.43,8.273],[2.60,8.268],[2.71,8.267],[2.78,8.267],[2.68,8.257],[2.76,8.249],[2.88,8.251],[2.43,8.234],[2.49,8.235],[2.68,8.237],[2.95,8.232],[3.13,8.198],[2.93,8.259],[2.78,8.286],[2.88,8.284],[3.00,8.275],[3.08,8.265],[3.10,8.249],[2.88,8.299],[3.00,8.297],[3.08,8.291],[2.78,8.342],[2.88,8.345],[3.00,8.348],[2.95,8.329],[3.08,8.326],[2.78,8.350],[2.68,8.332],[2.88,8.366]
];
const blueOuterDisc=[
[3.86,8.393],[4.03,8.378],[3.42,8.378],[3.51,8.383],[4.20,8.362],[4.92,8.365],[4.20,8.357],[3.64,8.361],[3.98,8.350],[4.06,8.347],[4.15,8.345],[3.47,8.356],[3.27,8.358],[3.37,8.342],[3.49,8.345],[3.56,8.339],[3.67,8.345],[3.15,8.342],[3.27,8.329],[3.44,8.329],[3.64,8.329],[3.76,8.326],[3.93,8.334],[4.17,8.326],[4.44,8.348],[4.37,8.320],[4.52,8.321],[4.67,8.330],[4.83,8.333],[4.99,8.323],[5.08,8.316],[5.25,8.338],[5.58,8.328],[5.79,8.322],[4.76,8.318],[4.68,8.306],[4.83,8.303],[4.98,8.310],[5.63,8.302],[4.57,8.299],[4.39,8.298],[4.00,8.310],[4.10,8.307],[4.27,8.313],[3.83,8.302],[3.71,8.300],[3.51,8.307],[3.37,8.313],[3.22,8.316],[3.15,8.297],[3.32,8.297],[3.59,8.297],[5.55,8.286],[5.05,8.283],[5.32,8.270],[5.99,8.258],[6.17,8.254],[5.22,8.249],[5.29,8.244],[5.52,8.241],[5.57,8.242],[4.90,8.261],[4.70,8.256],[4.57,8.254],[4.42,8.264],[4.54,8.262],[4.25,8.265],[4.10,8.257],[4.17,8.258],[4.03,8.275],[4.13,8.278],[3.93,8.262],[3.76,8.254],[3.56,8.254],[3.47,8.260],[3.27,8.254],[3.34,8.265],[3.17,8.273],[3.37,8.275],[3.61,8.273],[3.76,8.270],[3.90,8.278],[4.30,8.275],[4.00,8.241],[4.17,8.246],[3.89,8.242],[3.71,8.233],[3.57,8.222],[3.39,8.226],[3.25,8.233],[3.79,8.218],[3.98,8.230],[4.05,8.222],[4.22,8.220],[4.26,8.235],[4.38,8.241],[4.57,8.228],[4.71,8.235],[4.82,8.237],[4.94,8.232],[5.21,8.221],[5.60,8.218],[4.66,8.217],[4.29,8.208],[4.34,8.199],[4.50,8.203],[4.61,8.197],[4.64,8.189],[3.54,8.210],[3.66,8.203],[3.52,8.191],[3.21,8.190],[3.15,8.198],[5.00,8.173],[5.26,8.169],[5.81,8.176],[6.16,8.208]
];
const blueCore=[
[1.97,8.356],[2.10,8.352],[1.90,8.348],[2.29,8.348],[2.41,8.350],[2.56,8.350],[2.71,8.353],[2.90,8.348],[3.00,8.345],[3.27,8.358],[3.52,8.348],[3.64,8.350],[2.17,8.334],[2.10,8.332],[2.27,8.332],[2.39,8.334],[2.51,8.332],[2.63,8.332],[2.95,8.332],[3.10,8.337],[3.27,8.329],[3.39,8.326],[3.56,8.329],[3.69,8.326],[1.85,8.324],[1.97,8.310],[1.88,8.305],[2.12,8.310],[2.22,8.307],[2.32,8.310],[2.42,8.305],[2.51,8.307],[2.61,8.305],[2.71,8.307],[2.83,8.305],[2.95,8.310],[3.05,8.299],[3.17,8.299],[3.37,8.310],[1.95,8.294],[2.07,8.294],[2.17,8.289],[2.34,8.294],[2.44,8.289],[2.78,8.289],[2.88,8.291],[3.00,8.286],[3.08,8.281],[3.22,8.283],[3.44,8.291],[3.61,8.289],[1.83,8.272],[2.07,8.275],[2.32,8.268],[2.42,8.270],[2.61,8.267],[2.90,8.265],[2.98,8.270],[3.12,8.267],[3.27,8.265],[3.49,8.273],[3.66,8.267],[2.32,8.262],[2.68,8.257],[2.73,8.249],[2.90,8.257],[3.10,8.249],[3.49,8.257],[3.59,8.254],[2.44,8.236],[2.59,8.236],[3.22,8.243],[3.32,8.238],[3.00,8.299],[3.12,8.294],[3.30,8.289],[3.37,8.283],[3.54,8.283]
];
const blueShoulder=[
[0.53,8.369],[0.61,8.364],[0.77,8.366],[0.88,8.358],[0.97,8.366],[0.84,8.345],[0.92,8.339],[0.90,8.329],[1.10,8.329],[1.12,8.343],[1.22,8.339],[1.24,8.333],[1.24,8.323],[1.33,8.329],[1.32,8.318],[1.41,8.323],[1.19,8.350],[1.32,8.348],[1.44,8.348],[1.53,8.334],[1.66,8.326],[1.63,8.294],[1.55,8.307],[1.68,8.305],[1.78,8.291],[1.88,8.296],[1.80,8.310],[1.90,8.307],[1.98,8.305],[2.05,8.310],[2.10,8.302],[2.17,8.307],[2.07,8.291],[2.15,8.294],[2.22,8.297],[2.32,8.299],[2.05,8.281],[2.12,8.277],[2.25,8.281],[2.34,8.275],[1.93,8.278],[2.07,8.270],[1.83,8.270],[2.22,8.286],[1.56,8.350],[1.71,8.356],[1.83,8.358],[1.95,8.364],[2.05,8.366],[1.75,8.339],[1.90,8.321],[2.02,8.329],[2.15,8.331],[2.27,8.348],[2.34,8.348],[2.17,8.326],[1.93,8.374],[2.10,8.377],[1.73,8.372],[1.07,8.390],[1.27,8.388],[1.36,8.372],[1.49,8.369],[0.97,8.380]
];
const trendR=[0.25,0.75,1.25,1.75,2.25,2.75,3.25,3.75,4.25,4.75,5.25,5.75];
const trendRed=[8.539,8.530,8.507,8.482,8.482,8.464,8.466,8.432,8.435,8.458,8.465,8.441];
const trendBlue=[8.437,8.380,8.364,8.342,8.314,8.321,8.298,8.291,8.291,8.286,8.262,8.261];
const gammaDist=[0,0.2,0.4,0.6,0.8,1,1.2,1.4,1.6,1.8,2,2.2,2.4,2.6,2.8,3,3.2,3.4,3.6,3.8,4,4.2,4.4,4.6,4.8,5];
const gammaBlue=[0.000604,0.0008,0.00093,0.00103,0.00105,0.00109,0.00112,0.00116,0.00117,0.00119,0.00125,0.00132,0.00133,0.00136,0.0014,0.00136,0.00138,0.00136,0.00139,0.00136,0.00135,0.00136,0.0013,0.00127,0.00127,0.00125];
const gammaRed=[0.00082,0.00102,0.00125,0.00123,0.00128,0.00135,0.00136,0.00135,0.00136,0.00132,0.00134,0.00135,0.00137,0.0014,0.00141,0.00141,0.00149,0.00148,0.00152,0.00157,0.00158,0.00156,0.00165,0.00168,0.00167,0.00171];
const bluesRamp=['#08306b','#08519c','#2171b5','#4292c6','#6baed6','#9ecae1','#c6dbef','#deebf7','#f7fbff'];
const redsRamp=['#67000d','#a50f15','#cb181d','#ef3b2c','#fb6a4a','#fc9272','#fcbba1','#fee0d2','#fff5f0'];
const blueRange=[8.1734,8.4695], redRange=[8.2836,8.5578];
const blueTicks=[8.20,8.25,8.30,8.35,8.40,8.45], redTicks=[8.30,8.35,8.40,8.45,8.50,8.55];
const raTicks=[41.60,41.62], decTicks=[-0.52,-0.51,-0.50,-0.49,-0.48];
const radiusTicks=[0,2,4,6], metalTicks=[8.2,8.3,8.4,8.5], gammaTicks=[0.001,0.002,0.003,0.004];

const mapRows=[].concat(mapNorth,mapUpper,mapMiddleNorth,mapSouth,mapSouthEnd,mapLowerLoop);
const FONT='DejaVu Sans', FS=23.5;
const fmt=d=>v=>v.toFixed(d).replace('-','\u2212');
function axis(type,o){
  return {type:'value',gridIndex:o.g,min:o.min,max:o.max,name:o.name,nameLocation:'middle',nameGap:o.gap,
    nameTextStyle:Object.assign({fontFamily:FONT,fontSize:FS,color:'#000'},o.nameStyle||{}),
    splitLine:{show:false},axisLine:{show:false},
    axisTick:{show:true,length:7,inside:false,lineStyle:{color:'#000',width:1.2},customValues:o.ticks},
    axisLabel:{show:true,fontFamily:FONT,fontSize:FS,color:'#000',margin:o.margin||(type==='x'?14.5:17),customValues:o.ticks,formatter:fmt(o.dec),showMinLabel:true,showMaxLabel:true,hideOverlap:false}};
}
const boxes=[
 {left:190,top:6,width:284,height:400,backgroundColor:'#000'},
 {left:794,top:6,width:281,height:400,backgroundColor:'#000'},
 {left:102,top:514,width:456,height:34},
 {left:706,top:514,width:456,height:34},
 {left:102,top:657,width:456,height:265},
 {left:706,top:657,width:456,height:265}
].map(b=>Object.assign({show:true,borderColor:'#000',borderWidth:1.5,containLabel:false},b));
const logName='log(O/H)+12';
const xAxes=[
 axis('x',{g:0,min:41.58835,max:41.62176,ticks:raTicks,dec:2,name:'RA (deg)',gap:51}),
 axis('x',{g:1,min:41.58835,max:41.62141,ticks:raTicks,dec:2,name:'RA (deg)',gap:51}),
 axis('x',{g:2,min:blueRange[0],max:blueRange[1],ticks:blueTicks,dec:2,name:logName,gap:50,margin:16}),
 axis('x',{g:3,min:redRange[0],max:redRange[1],ticks:redTicks,dec:2,name:logName,gap:50,margin:16}),
 axis('x',{g:4,min:-0.22,max:6.466,ticks:radiusTicks,dec:0,name:'Galactocentric radius (kpc)',gap:51}),
 axis('x',{g:5,min:0,max:5,ticks:[0,1,2,3,4,5],dec:0,name:'Deprojected distance (kpc)',gap:51})
];
const decAxis=g=>axis('y',{g,min:-0.5206,max:-0.4735,ticks:decTicks,dec:2,name:'DEC (deg)',gap:100});
const hiddenY=g=>({type:'value',gridIndex:g,min:0,max:1,show:false});
const yAxes=[decAxis(0),decAxis(1),hiddenY(2),hiddenY(3),
 axis('y',{g:4,min:8.152,max:8.577,ticks:metalTicks,dec:1,name:'{n|log(}{i|O/H}{n|) + 12}',gap:66,nameStyle:{rich:{n:{fontFamily:FONT,fontSize:FS,color:'#000'},i:{fontFamily:FONT,fontSize:FS,fontStyle:'italic',color:'#000'}}}}),
 axis('y',{g:5,min:0.00044,max:0.00404,ticks:gammaTicks,dec:3,name:'\u03b3',gap:97,nameStyle:{fontStyle:'italic'}})
];
const stops=ramp=>ramp.map((c,i)=>({offset:i/(ramp.length-1),color:c}));
function colorbar(g,range,ramp){
  return {type:'custom',xAxisIndex:g,yAxisIndex:g,silent:true,data:[[range[0],range[1]]],encode:{x:[0,1]},
    renderItem:(p,api)=>{const a=api.coord([api.value(0),0]),b=api.coord([api.value(1),1]);
      return {type:'rect',shape:{x:a[0],y:b[1],width:b[0]-a[0],height:a[1]-b[1]},
        style:{fill:new echarts.graphic.LinearGradient(0,0,1,0,stops(ramp))}};}};
}
const mapScatter=(g,k)=>({type:'scatter',xAxisIndex:g,yAxisIndex:g,silent:true,symbolSize:5,itemStyle:{opacity:1},
  data:mapRows.map(r=>[r[0],r[1],r[k]]),encode:{x:0,y:1}});
const dots=(rows,c)=>({type:'scatter',xAxisIndex:4,yAxisIndex:4,silent:true,symbolSize:4.6,itemStyle:{color:c,opacity:1},data:rows});
const pairs=(xs,ys)=>xs.map((x,i)=>[x,ys[i]]);
const trend=(g,xs,ys,c,dash)=>({type:'line',xAxisIndex:g,yAxisIndex:g,silent:true,showSymbol:false,symbol:'none',z:5,
  lineStyle:{color:c,width:3.2,type:dash?[9,4]:'solid',cap:'butt',join:'round'},data:pairs(xs,ys)});
const series=[
 mapScatter(0,2),mapScatter(1,3),
 colorbar(2,blueRange,bluesRamp),colorbar(3,redRange,redsRamp),
 dots([].concat(blueInnerDisc,blueOuterDisc,blueCore,blueShoulder),'#b0c4de'),
 dots([].concat(redInnerDisc,redOuterDisc,redRidge,redFalloff),'#f08080'),
 trend(4,trendR,trendRed,'#b22222'),trend(4,trendR,trendBlue,'#00008b'),
 trend(5,gammaDist,gammaRed,'#b22222',true),trend(5,gammaDist,gammaBlue,'#00008b')
];
const chart=echarts.init(document.getElementById('c'),null,{renderer:'canvas',width:1186,height:1004});
chart.setOption({animation:false,backgroundColor:'#fff',grid:boxes,xAxis:xAxes,yAxis:yAxes,series,
 visualMap:[
  {show:false,type:'continuous',seriesIndex:0,dimension:2,min:blueRange[0],max:blueRange[1],inRange:{color:bluesRamp}},
  {show:false,type:'continuous',seriesIndex:1,dimension:2,min:redRange[0],max:redRange[1],inRange:{color:redsRamp}}
 ]});
</script>
</body></html>
